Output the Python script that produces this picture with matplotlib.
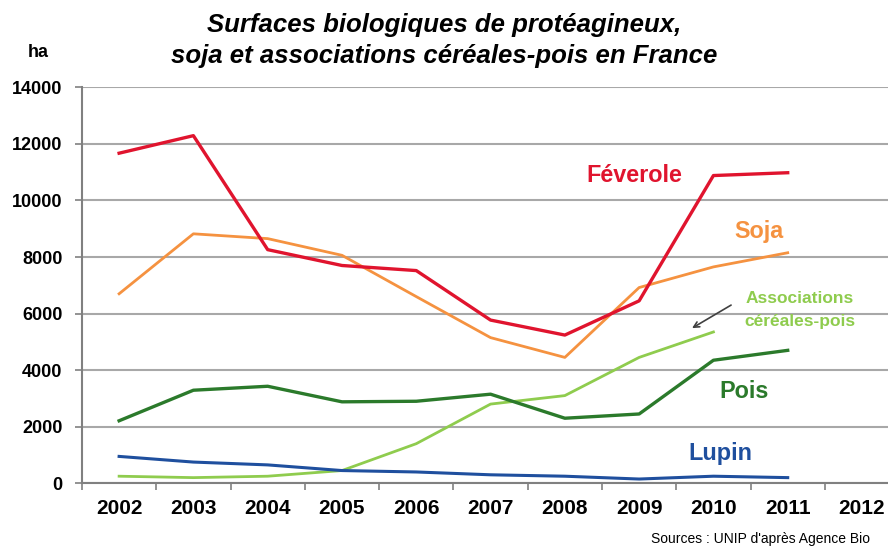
import matplotlib.pyplot as plt
from matplotlib.ticker import FixedLocator, NullFormatter

plt.rcParams['font.family'] = ['Liberation Sans', 'DejaVu Sans']

years = ['2002', '2003', '2004', '2005', '2006', '2007', '2008', '2009', '2010', '2011', '2012']
feverole = [11670, 12290, 8260, 7700, 7520, 5770, 5240, 6450, 10880, 10980]
soja = [6700, 8820, 8650, 8060, 6600, 5150, 4450, 6920, 7650, 8150]
associations = [250, 200, 250, 450, 1400, 2800, 3100, 4450, 5350]
pois = [2210, 3290, 3430, 2880, 2900, 3150, 2300, 2450, 4350, 4700]
lupin = [950, 750, 650, 450, 400, 300, 250, 150, 250, 200]

c_fev = '#e0142e'
c_soja = '#f59240'
c_asso = '#8fcc4e'
c_pois = '#2b7a2b'
c_lupin = '#1f4f9e'

fig = plt.figure(figsize=(8.88, 5.48), dpi=100)
ax = fig.add_axes([0.0923, 0.1181, 0.9077, 0.7226])

x = list(range(len(years)))
ax.plot(x[:len(feverole)], feverole, color=c_fev, linewidth=2.4, zorder=5)
ax.plot(x[:len(soja)], soja, color=c_soja, linewidth=2.0, zorder=4)
ax.plot(x[:len(associations)], associations, color=c_asso, linewidth=2.0, zorder=3)
ax.plot(x[:len(pois)], pois, color=c_pois, linewidth=2.4, zorder=4)
ax.plot(x[:len(lupin)], lupin, color=c_lupin, linewidth=2.2, zorder=4)

ax.set_xlim(-0.5, 10.35)
ax.set_ylim(0, 14000)
ax.set_yticks(range(0, 14001, 2000))
ax.yaxis.grid(True, color='#a8a8a8', linewidth=1.5)
ax.set_axisbelow(True)

ax.xaxis.set_major_locator(FixedLocator(x))
ax.set_xticklabels(years)
ax.xaxis.set_minor_locator(FixedLocator([i - 0.5 for i in range(12)]))
ax.xaxis.set_minor_formatter(NullFormatter())
ax.tick_params(axis='x', which='major', length=0, pad=11, labelsize=15)
ax.tick_params(axis='x', which='minor', length=5, width=1.2, color='#808080', direction='out')
ax.tick_params(axis='y', length=5, width=1.2, color='#808080', labelsize=13, pad=9)
for lab in ax.get_xticklabels() + ax.get_yticklabels():
    lab.set_fontweight('bold')

for s in ['top', 'right']:
    ax.spines[s].set_visible(False)
for s in ['left', 'bottom']:
    ax.spines[s].set_color('#808080')
    ax.spines[s].set_linewidth(1.5)

fig.text(0.5, 0.942, 'Surfaces biologiques de protéagineux,', ha='center', va='baseline',
         fontsize=18.5, fontweight='bold', fontstyle='italic')
fig.text(0.5, 0.8845, 'soja et associations céréales-pois en France', ha='center', va='baseline',
         fontsize=18.5, fontweight='bold', fontstyle='italic')
fig.text(0.043, 0.905, 'ha', ha='center', va='center', fontsize=13, fontweight='bold')

ax.text(6.94, 10880, 'Féverole', color=c_fev, fontsize=16.8, fontweight='bold', ha='center', va='center')
ax.text(8.61, 8900, 'Soja', color=c_soja, fontsize=16.8, fontweight='bold', ha='center', va='center')
ax.text(9.16, 6540, 'Associations', color=c_asso, fontsize=12.5, fontweight='bold', ha='center', va='center')
ax.text(9.16, 5730, 'céréales-pois', color=c_asso, fontsize=12.5, fontweight='bold', ha='center', va='center')
ax.text(8.41, 3240, 'Pois', color=c_pois, fontsize=16.8, fontweight='bold', ha='center', va='center')
ax.text(8.09, 1070, 'Lupin', color=c_lupin, fontsize=16.8, fontweight='bold', ha='center', va='center')
ax.annotate('', xy=(7.68, 5435), xytext=(8.27, 6350),
            arrowprops=dict(arrowstyle='->', color='#404040', lw=1.2))

fig.text(0.98, 0.009, "Sources : UNIP d'après Agence Bio", ha='right', va='baseline', fontsize=10)

fig.savefig('out.png', dpi=100)
